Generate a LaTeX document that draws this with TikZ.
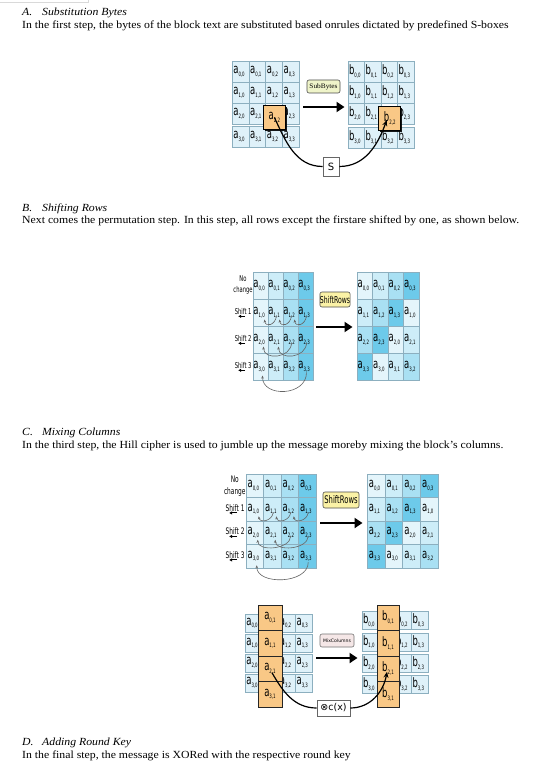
\documentclass[tikz,border=0pt]{standalone}
\usepackage{fontspec}
\setmainfont{Liberation Serif}[FakeStretch=1.08]
\newfontfamily\cellfont[FakeStretch=0.65]{DejaVu Sans}
\newfontfamily\symbfont{DejaVu Sans}
\usetikzlibrary{matrix,arrows.meta,shadows}

\definecolor{cellblue}{HTML}{DFF1F9}
\definecolor{gridline}{HTML}{8CAFBF}
\definecolor{selorange}{HTML}{F9C886}
\definecolor{subfill}{HTML}{EFF4C9}
\definecolor{shiftfill}{HTML}{FBF2A6}
\definecolor{mixfill}{HTML}{F5E7E7}
\definecolor{rowcol0}{HTML}{E4F5FB}
\definecolor{rowcol1}{HTML}{CDEDF8}
\definecolor{rowcol2}{HTML}{A9E0F3}
\definecolor{rowcol3}{HTML}{6DCAEA}

\newcommand\sub[1]{\raisebox{-0.4ex}{\fontsize{6}{6}\selectfont#1}}
\newcommand\ac[1]{a\sub{#1}}
\newcommand\bc[1]{b\sub{#1}}

\tikzset{
  bytegrid/.style={matrix of nodes, nodes in empty cells,
    ampersand replacement=\&, inner sep=0pt,
    row sep=-0.5pt, column sep=-0.5pt,
    nodes={draw=gridline, line width=0.5pt, inner sep=0pt, align=center,
           font=\cellfont\fontsize{13}{13}\selectfont}},
  sh0/.style={fill=rowcol0}, sh1/.style={fill=rowcol1},
  sh2/.style={fill=rowcol2}, sh3/.style={fill=rowcol3},
  selcell/.style={draw=black, line width=0.7pt, fill=selorange, inner sep=0pt,
    font=\cellfont\fontsize{13}{13}\selectfont,
    drop shadow={shadow xshift=1.6pt, shadow yshift=-1.6pt, fill=black, opacity=0.9}},
  orcell/.style={draw=black!85, line width=0.7pt, fill=selorange, inner sep=0pt,
    font=\cellfont\fontsize{13}{13}\selectfont,
    drop shadow={shadow xshift=1pt, shadow yshift=-1pt, fill=black, opacity=0.6}},
  oplabel/.style={draw=black!70, line width=0.6pt, rounded corners=2pt, inner sep=0pt},
  opbox/.style={draw=gray!80!black, line width=0.6pt, fill=white, inner sep=0pt},
  sidelbl/.style={inner sep=0pt, align=center, font=\cellfont\fontsize{8}{11.5}\selectfont},
  bigarrow/.style={line width=2pt, -{Triangle[length=8pt,width=10pt]}},
  sharrow/.style={line width=1pt, -{Latex[length=3pt,width=3.5pt]}},
  rowcurve/.style={draw=black!60, line width=0.6pt, -{Stealth[length=3pt,width=2.5pt]}},
  sbcurve/.style={line width=1.2pt},
  headtxt/.style={anchor=base west, inner sep=0pt, font=\itshape\fontsize{10.9}{12}\selectfont},
  bodytxt/.style={anchor=base west, inner sep=0pt, font=\fontsize{10.9}{12}\selectfont}
}

\begin{document}
\begin{tikzpicture}[x=1pt, y=1pt]
  \useasboundingbox[fill=white] (0,0) rectangle (547,-770);
  \draw[gray!30] (0,-2.5) -- (88,-2.5) -- (88,0);

  % A. Substitution Bytes
  \node[headtxt] (heada) at (22,-15.5) {\makebox[20pt][l]{A.}Substitution Bytes};
  \node[bodytxt] (bodya) at (22,-28.5) {In the first step, the bytes of the block text are substituted based onrules dictated by predefined S-boxes};

  \matrix (subin) [bytegrid, nodes={fill=cellblue, minimum width=16.75pt, minimum height=21pt}]
    at (265.5,-104.5) {
      \ac{0,0} \& \ac{0,1} \& \ac{0,2} \& \ac{0,3} \\
      \ac{1,0} \& \ac{1,1} \& \ac{1,2} \& \ac{1,3} \\
      \ac{2,0} \& \ac{2,1} \&          \& \ac{2,3} \\
      \ac{3,0} \& \ac{3,1} \& \ac{3,2} \& \ac{3,3} \\
    };
  \matrix (subout) [bytegrid, nodes={fill=cellblue, minimum width=16.5pt, minimum height=21pt}]
    at (381,-104.5) {
      \bc{0,0} \& \bc{0,1} \& \bc{0,2} \& \bc{0,3} \\
      \bc{1,0} \& \bc{1,1} \& \bc{1,2} \& \bc{1,3} \\
      \bc{2,0} \& \bc{2,1} \&          \& \bc{2,3} \\
      \bc{3,0} \& \bc{3,1} \& \bc{3,2} \& \bc{3,3} \\
    };
  \node[selcell, minimum width=22pt, minimum height=24pt] (asel)
    at ([xshift=0.5pt,yshift=-1.5pt]subin-3-3) {\ac{2,2}};
  \node[selcell, minimum width=22pt, minimum height=24pt] (bsel)
    at ([xshift=0.5pt,yshift=-1.5pt]subout-3-3) {\bc{2,2}};
  \node[oplabel, fill=subfill, minimum width=33pt, minimum height=13pt,
        font=\fontsize{6.8}{8}\selectfont] (sblbl) at (323.5,-86.5) {SubBytes};
  \node[opbox, minimum width=16pt, minimum height=19pt,
        font=\symbfont\fontsize{10}{10}\selectfont] (sbox) at (331,-166.5) {S};
  \draw[bigarrow] ([xshift=4pt,yshift=-2.5pt]subin.east) -- ([xshift=-3pt,yshift=-2.5pt]subout.west);
  \draw[sbcurve] (asel.center) to[out=-65,in=180] (sbox.west);
  \draw[sbcurve, -{Stealth[length=6pt,width=5pt]}] (sbox.east) to[out=0,in=-110]
    ([xshift=-3pt,yshift=-2pt]bsel.center);

  % B. Shifting Rows
  \node[headtxt] (headb) at (22,-211.5) {\makebox[20pt][l]{B.}Shifting Rows};
  \node[bodytxt] (bodyb) at (22,-223.5) {Next comes the permutation step. In this step, all rows except the firstare shifted by one, as shown below.};

  \matrix (shin) [bytegrid, nodes={minimum width=15pt, minimum height=27pt},
                  column 1/.style={nodes={sh0}}, column 2/.style={nodes={sh1}},
                  column 3/.style={nodes={sh2}}, column 4/.style={nodes={sh3}}]
    at (283,-326) {
      \ac{0,0} \& \ac{0,1} \& \ac{0,2} \& \ac{0,3} \\
      \ac{1,0} \& \ac{1,1} \& \ac{1,2} \& \ac{1,3} \\
      \ac{2,0} \& \ac{2,1} \& \ac{2,2} \& \ac{2,3} \\
      \ac{3,0} \& \ac{3,1} \& \ac{3,2} \& \ac{3,3} \\
    };
  \matrix (shout) [bytegrid, nodes={minimum width=15.5pt, minimum height=27pt}]
    at (388,-326) {
      |[sh0]| \ac{0,0} \& |[sh1]| \ac{0,1} \& |[sh2]| \ac{0,2} \& |[sh3]| \ac{0,3} \\
      |[sh1]| \ac{1,1} \& |[sh2]| \ac{1,2} \& |[sh3]| \ac{1,3} \& |[sh0]| \ac{1,0} \\
      |[sh2]| \ac{2,2} \& |[sh3]| \ac{2,3} \& |[sh0]| \ac{2,0} \& |[sh1]| \ac{2,1} \\
      |[sh3]| \ac{3,3} \& |[sh0]| \ac{3,0} \& |[sh1]| \ac{3,1} \& |[sh2]| \ac{3,2} \\
    };
  \node[oplabel, fill=shiftfill, minimum width=30pt, minimum height=15pt,
        font=\cellfont\fontsize{9.5}{9.5}\selectfont] (srlbl) at (335,-299.5) {ShiftRows};
  \draw[bigarrow] ([xshift=3pt,yshift=-1pt]shin.east) -- ([xshift=-4pt,yshift=-1pt]shout.west);

  \node[sidelbl, anchor=east] (bnochg) at ([yshift=0.5pt]shin-1-1.west) {No\\change};
  \node[sidelbl, anchor=east] (bsh1) at ([xshift=-1pt,yshift=1pt]shin-2-1.west) {Shift 1};
  \node[sidelbl, anchor=east] (bsh2) at ([xshift=-1pt,yshift=1pt]shin-3-1.west) {Shift 2};
  \node[sidelbl, anchor=east] (bsh3) at ([xshift=-1pt,yshift=1pt]shin-4-1.west) {Shift 3};
  \draw[sharrow] ([xshift=2pt,yshift=-1.5pt]bsh1.south) -- ([xshift=-5pt,yshift=-1.5pt]bsh1.south);
  \draw[sharrow] ([xshift=2pt,yshift=-1.5pt]bsh2.south) -- ([xshift=-5pt,yshift=-1.5pt]bsh2.south);
  \draw[sharrow] ([xshift=2pt,yshift=-1.5pt]bsh3.south) -- ([xshift=-5pt,yshift=-1.5pt]bsh3.south);

  \draw[rowcurve] ([xshift=1pt,yshift=-3pt]shin-2-2.center) .. controls +(-1,-10) and +(1,-8) .. ([xshift=4pt,yshift=-7pt]shin-2-1.center);
  \draw[rowcurve] ([xshift=1pt,yshift=-3pt]shin-2-3.center) .. controls +(-1,-10) and +(1,-8) .. ([xshift=4pt,yshift=-7pt]shin-2-2.center);
  \draw[rowcurve] ([xshift=1pt,yshift=-3pt]shin-2-4.center) .. controls +(-1,-10) and +(1,-8) .. ([xshift=4pt,yshift=-7pt]shin-2-3.center);
  \draw[rowcurve] ([xshift=1pt,yshift=-3pt]shin-3-3.center) .. controls +(0,-16) and +(0,-14) .. ([xshift=3pt,yshift=-7pt]shin-3-1.center);
  \draw[rowcurve] ([xshift=1pt,yshift=-3pt]shin-3-4.center) .. controls +(0,-16) and +(0,-14) .. ([xshift=3pt,yshift=-7pt]shin-3-2.center);
  \draw[rowcurve] ([xshift=1pt,yshift=-6pt]shin-4-4.center) .. controls +(0,-24) and +(0,-22) .. ([xshift=2pt,yshift=-9pt]shin-4-1.center);

  % C. Mixing Columns
  \node[headtxt] (headc) at (22,-435.5) {\makebox[20pt][l]{C.}Mixing Columns};
  \node[bodytxt] (bodyc) at (22,-448.5) {In the third step, the Hill cipher is used to jumble up the message moreby mixing the block’s columns.};

  \matrix (shinb) [bytegrid, nodes={minimum width=17.5pt, minimum height=23.5pt},
                   column 1/.style={nodes={sh0}}, column 2/.style={nodes={sh1}},
                   column 3/.style={nodes={sh2}}, column 4/.style={nodes={sh3}}]
    at (281,-521) {
      \ac{0,0} \& \ac{0,1} \& \ac{0,2} \& \ac{0,3} \\
      \ac{1,0} \& \ac{1,1} \& \ac{1,2} \& \ac{1,3} \\
      \ac{2,0} \& \ac{2,1} \& \ac{2,2} \& \ac{2,3} \\
      \ac{3,0} \& \ac{3,1} \& \ac{3,2} \& \ac{3,3} \\
    };
  \matrix (shoutb) [bytegrid, nodes={minimum width=17.75pt, minimum height=23.5pt}]
    at (402.5,-521) {
      |[sh0]| \ac{0,0} \& |[sh1]| \ac{0,1} \& |[sh2]| \ac{0,2} \& |[sh3]| \ac{0,3} \\
      |[sh1]| \ac{1,1} \& |[sh2]| \ac{1,2} \& |[sh3]| \ac{1,3} \& |[sh0]| \ac{1,0} \\
      |[sh2]| \ac{2,2} \& |[sh3]| \ac{2,3} \& |[sh0]| \ac{2,0} \& |[sh1]| \ac{2,1} \\
      |[sh3]| \ac{3,3} \& |[sh0]| \ac{3,0} \& |[sh1]| \ac{3,1} \& |[sh2]| \ac{3,2} \\
    };
  \node[oplabel, fill=shiftfill, minimum width=36pt, minimum height=16pt,
        font=\cellfont\fontsize{10.5}{10.5}\selectfont] (srlblb) at (341,-500) {ShiftRows};
  \draw[bigarrow] ([xshift=4pt,yshift=-2pt]shinb.east) -- ([xshift=-4pt,yshift=-2pt]shoutb.west);

  \node[sidelbl, anchor=east, font=\cellfont\fontsize{9}{12}\selectfont] (cnochg) at (shinb-1-1.west) {No\\change};
  \node[sidelbl, anchor=east, font=\cellfont\fontsize{9}{12}\selectfont] (csh1) at ([xshift=-1pt,yshift=1.5pt]shinb-2-1.west) {Shift 1};
  \node[sidelbl, anchor=east, font=\cellfont\fontsize{9}{12}\selectfont] (csh2) at ([xshift=-1pt,yshift=1.5pt]shinb-3-1.west) {Shift 2};
  \node[sidelbl, anchor=east, font=\cellfont\fontsize{9}{12}\selectfont] (csh3) at ([xshift=-1pt,yshift=1.5pt]shinb-4-1.west) {Shift 3};
  \draw[sharrow] ([xshift=2pt,yshift=-1.5pt]csh1.south) -- ([xshift=-6pt,yshift=-1.5pt]csh1.south);
  \draw[sharrow] ([xshift=2pt,yshift=-1.5pt]csh2.south) -- ([xshift=-6pt,yshift=-1.5pt]csh2.south);
  \draw[sharrow] ([xshift=2pt,yshift=-1.5pt]csh3.south) -- ([xshift=-6pt,yshift=-1.5pt]csh3.south);

  \draw[rowcurve] ([xshift=1pt,yshift=-3pt]shinb-2-2.center) .. controls +(-1,-9) and +(1,-7) .. ([xshift=4pt,yshift=-7pt]shinb-2-1.center);
  \draw[rowcurve] ([xshift=1pt,yshift=-3pt]shinb-2-3.center) .. controls +(-1,-9) and +(1,-7) .. ([xshift=4pt,yshift=-7pt]shinb-2-2.center);
  \draw[rowcurve] ([xshift=1pt,yshift=-3pt]shinb-2-4.center) .. controls +(-1,-9) and +(1,-7) .. ([xshift=4pt,yshift=-7pt]shinb-2-3.center);
  \draw[rowcurve] ([xshift=1pt,yshift=-3pt]shinb-3-3.center) .. controls +(0,-14) and +(0,-12) .. ([xshift=3pt,yshift=-7pt]shinb-3-1.center);
  \draw[rowcurve] ([xshift=1pt,yshift=-3pt]shinb-3-4.center) .. controls +(0,-14) and +(0,-12) .. ([xshift=3pt,yshift=-7pt]shinb-3-2.center);
  \draw[rowcurve] ([xshift=1pt,yshift=-6pt]shinb-4-4.center) .. controls +(0,-22) and +(0,-20) .. ([xshift=2pt,yshift=-9pt]shinb-4-1.center);

  \matrix (mixin) [bytegrid, nodes={fill=cellblue, minimum width=16.75pt, minimum height=18pt}]
    at (278.5,-654) {
      \ac{0,0} \& \& \ac{0,2} \& \ac{0,3} \\
      \ac{1,0} \& \& \ac{1,2} \& \ac{1,3} \\
      \ac{2,0} \& \& \ac{2,2} \& \ac{2,3} \\
      \ac{3,0} \& \& \ac{3,2} \& \ac{3,3} \\
    };
  \matrix (mixout) [bytegrid, nodes={fill=cellblue, minimum width=16.5pt, minimum height=18pt}]
    at (395,-654) {
      \bc{0,0} \& \& \bc{0,2} \& \bc{0,3} \\
      \bc{1,0} \& \& \bc{1,2} \& \bc{1,3} \\
      \bc{2,0} \& \& \bc{2,2} \& \bc{2,3} \\
      \bc{3,0} \& \& \bc{3,2} \& \bc{3,3} \\
    };
  \matrix (acol) [matrix of nodes, ampersand replacement=\&, row sep=-0.7pt,
                  nodes={orcell, minimum width=24pt, minimum height=25.5pt}] at (270,-656) {
      \ac{0,1} \\ \ac{1,1} \\ \ac{2,1} \\ \ac{3,1} \\
    };
  \matrix (bcol) [matrix of nodes, ampersand replacement=\&, row sep=-0.7pt,
                  nodes={orcell, minimum width=22pt, minimum height=25.5pt}] at (388,-656) {
      \bc{0,1} \\ \bc{1,1} \\ \bc{2,1} \\ \bc{3,1} \\
    };
  \node[oplabel, fill=mixfill, draw=black!55, minimum width=34pt, minimum height=13pt,
        font=\symbfont\fontsize{4.6}{5}\selectfont] (mclbl) at (337,-640.5) {MixColumns};
  \node[opbox, minimum width=33pt, minimum height=16pt,
        font=\symbfont\fontsize{9.5}{10}\selectfont] (cxbox) at (333.5,-708) {⊗c(x)};
  \draw[bigarrow] ([xshift=4pt,yshift=-4pt]mixin.east) -- ([xshift=-4pt,yshift=-4pt]mixout.west);
  \draw[sbcurve] ([xshift=2pt,yshift=-4pt]acol-3-1.center) to[out=-60,in=180] (cxbox.west);
  \draw[sbcurve, -{Stealth[length=6pt,width=5pt]}] (cxbox.east) to[out=0,in=-100]
    ([xshift=-1pt,yshift=-3pt]bcol-3-1.center);

  % D. Adding Round Key
  \node[headtxt] (headd) at (22,-745.5) {\makebox[20pt][l]{D.}Adding Round Key};
  \node[bodytxt] (bodyd) at (22,-758.5) {In the final step, the message is XORed with the respective round key};
\end{tikzpicture}
\end{document}
